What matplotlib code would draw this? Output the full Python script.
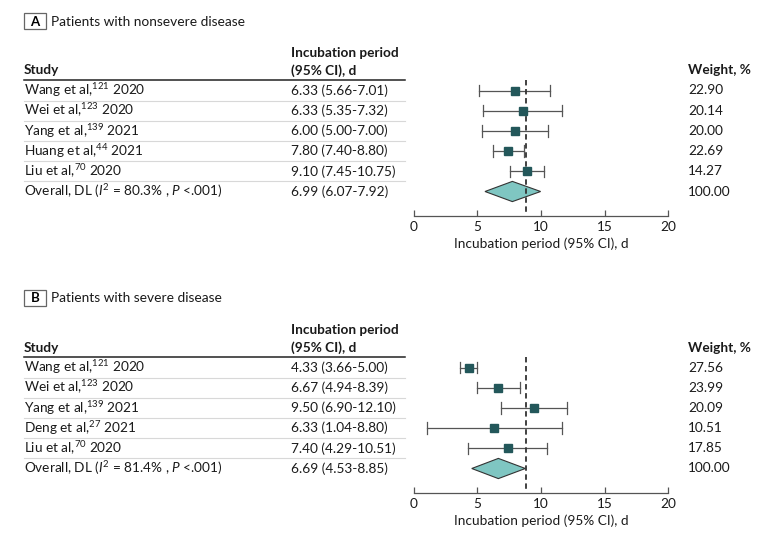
import matplotlib
matplotlib.use('Agg')
import matplotlib.pyplot as plt
from matplotlib.patches import Polygon, Rectangle

plt.rcParams['font.family'] = ['Lato', 'DejaVu Sans']
plt.rcParams['mathtext.fontset'] = 'custom'
plt.rcParams['mathtext.rm'] = 'Lato'
plt.rcParams['mathtext.it'] = 'Lato:italic'

# ---- data ----
titles = ["Patients with nonsevere disease", "Patients with severe disease"]
letters = ["A", "B"]

studies_a = ["Wang et al,$^{121}$ 2020", "Wei et al,$^{123}$ 2020", "Yang et al,$^{139}$ 2021",
             "Huang et al,$^{44}$ 2021", "Liu et al,$^{70}$ 2020"]
est_text_a = ["6.33 (5.66-7.01)", "6.33 (5.35-7.32)", "6.00 (5.00-7.00)",
              "7.80 (7.40-8.80)", "9.10 (7.45-10.75)"]
weights_a = ["22.90", "20.14", "20.00", "22.69", "14.27"]
# positions as drawn in the figure
pt_a = [7.93, 8.59, 7.98, 7.43, 8.89]
lo_a = [5.15, 5.44, 5.39, 6.20, 7.54]
hi_a = [10.68, 11.67, 10.57, 8.66, 10.26]
overall_a = "Overall, DL ($I^2$ = 80.3% , $P$ <.001)"
overall_text_a = "6.99 (6.07-7.92)"
diamond_a = [5.60, 7.75, 9.97]

studies_b = ["Wang et al,$^{121}$ 2020", "Wei et al,$^{123}$ 2020", "Yang et al,$^{139}$ 2021",
             "Deng et al,$^{27}$ 2021", "Liu et al,$^{70}$ 2020"]
est_text_b = ["4.33 (3.66-5.00)", "6.67 (4.94-8.39)", "9.50 (6.90-12.10)",
              "6.33 (1.04-8.80)", "7.40 (4.29-10.51)"]
weights_b = ["27.56", "23.99", "20.09", "10.51", "17.85"]
pt_b = [4.32, 6.65, 9.48, 6.33, 7.38]
lo_b = [3.64, 4.95, 6.88, 1.02, 4.29]
hi_b = [5.00, 8.38, 12.07, 11.63, 10.50]
overall_b = "Overall, DL ($I^2$ = 81.4% , $P$ <.001)"
overall_text_b = "6.69 (4.53-8.85)"
diamond_b = [4.56, 6.65, 8.77]

ref_line = 8.83
xticks = [0, 5, 10, 15, 20]

W, H = 780, 542
fig = plt.figure(figsize=(7.8, 5.42), dpi=100)
ov = fig.add_axes([0, 0, 1, 1])
ov.set_xlim(0, W)
ov.set_ylim(H, 0)
ov.axis('off')

fs = 9.8
tc = '#1a1a1a'
marker_col = '#23575a'
ci_col = '#555555'
dia_col = '#7fc6c2'

panels = [
    (0, studies_a, est_text_a, weights_a, pt_a, lo_a, hi_a, overall_a, overall_text_a, diamond_a),
    (277, studies_b, est_text_b, weights_b, pt_b, lo_b, hi_b, overall_b, overall_text_b, diamond_b),
]

row_h = 20.2
for k, (off, studies, etxt, wts, pt, lo, hi, ov_lbl, ov_txt, dia) in enumerate(panels):
    first = 90.5 + off
    # title box
    ov.add_patch(Rectangle((24, 13.3 + off), 22, 16, fill=False, ec='#666666', lw=0.9))
    ov.text(35, 21.5 + off, letters[k], fontsize=9.5, weight='bold', ha='center', va='center')
    ov.text(51, 21.5 + off, titles[k], fontsize=9.9, ha='left', va='center', color=tc)
    # headers
    ov.text(24, 70.5 + off, "Study", fontsize=fs, weight='bold', va='center', color=tc)
    ov.text(291, 53 + off, "Incubation period", fontsize=fs, weight='bold', va='center', color=tc)
    ov.text(291, 70.5 + off, "(95% CI), d", fontsize=fs, weight='bold', va='center', color=tc)
    ov.text(688, 70.5 + off, "Weight, %", fontsize=fs, weight='bold', va='center', color=tc)
    ov.plot([24, 405], [80 + off, 80 + off], color='#222222', lw=1.1)
    rows = studies + [ov_lbl]
    ests = etxt + [ov_txt]
    ws = wts + ["100.00"]
    for i in range(len(rows)):
        y = first + i * row_h
        ov.text(24, y, rows[i], fontsize=fs, va='center', color=tc)
        ov.text(291, y, ests[i], fontsize=fs, va='center', color=tc)
        ov.text(688, y, ws[i], fontsize=fs, va='center', color=tc)
        if i > 0:
            ov.plot([24, 405], [y - row_h / 2, y - row_h / 2], color='#d8d8d8', lw=0.8)

    # forest axes
    ax_top = 60 + off
    ax_bot = 215.5 + off
    ax = fig.add_axes([413.7 / W, 1 - ax_bot / H, (668.3 - 413.7) / W, (ax_bot - ax_top) / H])
    ax.patch.set_visible(False)
    ybot = (ax_bot - first) / row_h
    ytop = (ax_top - first) / row_h
    ax.set_xlim(0, 20)
    ax.set_ylim(ybot, ytop)
    n = len(pt)
    for i in range(n):
        ax.plot([lo[i], hi[i]], [i, i], color=ci_col, lw=0.9, zorder=2)
        ax.plot([lo[i], lo[i]], [i - 0.28, i + 0.28], color=ci_col, lw=0.9, zorder=2)
        ax.plot([hi[i], hi[i]], [i - 0.28, i + 0.28], color=ci_col, lw=0.9, zorder=2)
    ax.plot(pt, range(n), 's', color=marker_col, ms=6.2, zorder=4, ls='none')
    ax.add_patch(Polygon([[dia[0], n], [dia[1], n - 0.5], [dia[2], n], [dia[1], n + 0.5]],
                         closed=True, fc=dia_col, ec='#333333', lw=0.8, zorder=3))
    ax.plot([ref_line, ref_line], [-0.5, ybot - 0.15], color='#333333', lw=1.3,
            ls=(0, (3, 2)), zorder=3)
    for s in ['top', 'right', 'left']:
        ax.spines[s].set_visible(False)
    ax.spines['bottom'].set_color('#555555')
    ax.spines['bottom'].set_linewidth(0.9)
    ax.set_yticks([])
    ax.set_xticks(xticks)
    ax.tick_params(axis='x', direction='in', length=4, width=0.9, color='#555555',
                   labelsize=fs, pad=4, labelcolor=tc)
    ax.set_xlabel("Incubation period (95% CI), d", fontsize=fs, labelpad=3, color=tc)

fig.savefig('out.png', dpi=100)
